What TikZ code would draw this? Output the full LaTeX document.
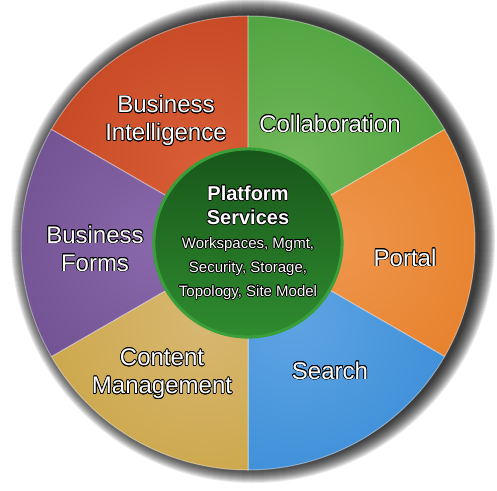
\documentclass[tikz,border=0pt]{standalone}
\usepackage{fontspec}
\setmainfont{Liberation Sans}
\usepackage{contour}
\contourlength{0.7pt}
\usepackage{tikz}
\usetikzlibrary{positioning}
\definecolor{redBase}{HTML}{BC3E1C}
\definecolor{redLight}{HTML}{D95E36}
\definecolor{grnBase}{HTML}{3D9832}
\definecolor{grnLight}{HTML}{72B85A}
\definecolor{orgBase}{HTML}{E3761C}
\definecolor{orgLight}{HTML}{EE964C}
\definecolor{bluBase}{HTML}{2E84D3}
\definecolor{bluLight}{HTML}{5EA4E3}
\definecolor{gldBase}{HTML}{C79E36}
\definecolor{gldLight}{HTML}{D7B872}
\definecolor{purBase}{HTML}{644683}
\definecolor{purLight}{HTML}{8A68AC}
\definecolor{coreTop}{HTML}{18561A}
\definecolor{coreBot}{HTML}{2F8C2F}
\definecolor{coreRim}{HTML}{3A9E3A}
\tikzstyle{seglabel} = [text=white, align=center, font=\fontsize{24}{28}\selectfont]
\tikzstyle{core} = [circle, minimum size=178pt, draw=coreRim, line width=3pt, top color=coreTop, bottom color=coreBot, text=white, align=center, font=\fontsize{15}{24}\selectfont]
\newcommand{\ot}[1]{\contour{black}{#1}}
\newcommand{\sector}[4]{%
  \begin{scope}
    \clip (0,0) -- (#1:227pt) arc (#1:#2:227pt) -- cycle;
    \shade[inner color=#4, outer color=#3] ({(#1+#2)/2}:90pt) circle (250pt);
  \end{scope}
  \draw[white, opacity=0.4, line width=1pt] (0,0) -- (#1:227pt) arc (#1:#2:227pt) -- cycle;
}

\begin{document}
\begin{tikzpicture}[x=1pt, y=1pt]
    \useasboundingbox (-248,-247) rectangle (249,243);
    % soft shadow
    \foreach \i in {1,...,16}
        \fill[black, opacity=0.085] (5,2) circle ({226pt+\i*1pt});
    % ring
    \sector{90}{150}{redBase}{redLight}
    \sector{30}{90}{grnBase}{grnLight}
    \sector{-30}{30}{orgBase}{orgLight}
    \sector{-90}{-30}{bluBase}{bluLight}
    \sector{-150}{-90}{gldBase}{gldLight}
    \sector{150}{210}{purBase}{purLight}
    \node (BusIntel) [seglabel] at (-82,122) {\ot{Business}\\\ot{Intelligence}};
    \node (Collab) [seglabel] at (82,119) {\ot{Collaboration}};
    \node (Portal) [seglabel] at (157,-15) {\ot{Portal}};
    \node (Search) [seglabel] at (82,-128) {\ot{Search}};
    \node (ContMgmt) [seglabel] at (-86,-131) {\ot{Content}\\\ot{Management}};
    \node (BusForms) [seglabel] at (-153,-6) {\ot{Business}\\\ot{Forms}};
    \node (Platform) [core] at (0,0) {{\bfseries\fontsize{20}{24}\selectfont\ot{Platform}}\\{\bfseries\fontsize{20}{24}\selectfont\ot{Services}}\\\ot{Workspaces, Mgmt,}\\\ot{Security, Storage,}\\\ot{Topology, Site Model}};
\end{tikzpicture}
\end{document}
